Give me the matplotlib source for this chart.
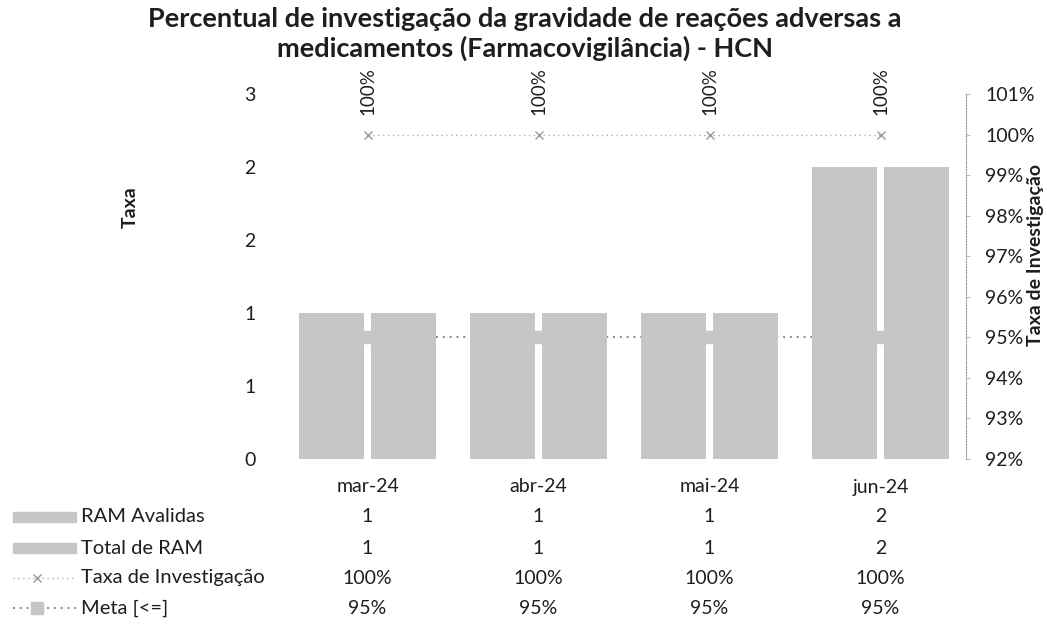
import numpy as np
import matplotlib
matplotlib.use("Agg")
import matplotlib.pyplot as plt
from matplotlib.patches import Rectangle
from matplotlib.lines import Line2D
from matplotlib.ticker import FuncFormatter, FixedLocator
import matplotlib.transforms as mtransforms

plt.rcParams['font.family'] = ['Lato', 'DejaVu Sans']

# Data
months = ["mar-24", "abr-24", "mai-24", "jun-24"]
ram_avaliadas = [1, 1, 1, 2]
total_ram = [1, 1, 1, 2]
taxa_investigacao = [1.00, 1.00, 1.00, 1.00]
meta = [0.95, 0.95, 0.95, 0.95]
series_names = ["RAM Avalidas", "Total de RAM", "Taxa de Investigação", "Meta [<=]"]

title = ("Percentual de investigação da gravidade de reações adversas a\n"
         "medicamentos (Farmacovigilância) - HCN")

FS = 14
W, H = 1047, 638
fig = plt.figure(figsize=(W / 100, H / 100), dpi=100)
fig.patch.set_facecolor("white")

left, right, bottom, top = 282, 966, 459, 94
ax = fig.add_axes([left / W, 1 - bottom / H, (right - left) / W, (bottom - top) / H])
ax2 = ax.twinx()

bar_color = "#c6c6c6"
text_color = "#1e1e1e"
x = np.arange(len(months))
bw = 0.38
off = 0.213

# secondary-axis lines sit behind the bars
ax.set_zorder(ax2.get_zorder() + 1)
ax.patch.set_visible(False)

ax.bar(x - off, ram_avaliadas, bw, color=bar_color, zorder=2)
ax.bar(x + off, total_ram, bw, color=bar_color, zorder=2)

ax.set_xlim(-0.5, len(months) - 0.5)
ax.set_ylim(0, 2.5)
ax.yaxis.set_major_locator(FixedLocator([0, 0.5, 1.0, 1.5, 2.0, 2.5]))
ax.yaxis.set_major_formatter(FuncFormatter(lambda v, p: f"{int(np.floor(v + 0.5))}"))
ax.tick_params(axis="y", length=0, pad=19, labelsize=FS, labelcolor=text_color)
ax.set_xticks([])
for s in ax.spines.values():
    s.set_visible(False)

ax2.plot(x, meta, linestyle=(0, (1, 2.5)), color="#8a8a8a", linewidth=1.4,
         marker="s", markersize=9, markerfacecolor=bar_color, markeredgecolor=bar_color)
ax2.plot(x, taxa_investigacao, linestyle=(0, (1, 2.5)), color="#b0b0b0", linewidth=1.0,
         marker="x", markersize=6, markeredgecolor="#9a9a9a", markeredgewidth=1.0)
ax2.set_ylim(0.92, 1.01)
ax2.yaxis.set_major_locator(FixedLocator(np.arange(0.92, 1.0101, 0.01)))
ax2.yaxis.set_major_formatter(FuncFormatter(lambda v, p: f"{v * 100:.0f}%"))
ax2.tick_params(axis="y", length=3, color="#bbbbbb", pad=11, labelsize=FS,
                labelcolor=text_color)
for name, s in ax2.spines.items():
    s.set_visible(name == "right")
ax2.spines["right"].set_linestyle((0, (1, 1.5)))
ax2.spines["right"].set_color("#9a9a9a")
ax2.spines["right"].set_linewidth(0.8)

for xi, v in zip(x, taxa_investigacao):
    ax2.annotate(f"{v * 100:.0f}%", (xi, v), xytext=(0, 14), textcoords="offset points",
                 rotation=90, ha="center", va="bottom", fontsize=13.5, color=text_color,
                 annotation_clip=False)

fig.text(130 / W, 1 - 207 / H, "Taxa", rotation=90, ha="center", va="center",
         fontsize=FS, fontweight="bold", color=text_color)
fig.text(1035 / W, 1 - 255 / H, "Taxa de Investigação", rotation=90, ha="center",
         va="center", fontsize=FS, fontweight="bold", color=text_color)

fig.text(525 / W, 1 - 34 / H, title, ha="center", va="center", fontsize=19.5,
         fontweight="bold", color=text_color, linespacing=1.2)

# Data table under the plot
blend = mtransforms.blended_transform_factory(ax.transData, fig.transFigure)
row_y = [517, 548, 578, 608]
for xi, m in zip(x, months):
    fig.text(xi, 1 - 487 / H, m, transform=blend, ha="center", va="center",
             fontsize=FS, color=text_color)
rows = [
    [f"{v:d}" for v in ram_avaliadas],
    [f"{v:d}" for v in total_ram],
    [f"{v * 100:.0f}%" for v in taxa_investigacao],
    [f"{v * 100:.0f}%" for v in meta],
]
for ry, name, vals in zip(row_y, series_names, rows):
    fig.text(81 / W, 1 - ry / H, name, ha="left", va="center", fontsize=14.5,
             color=text_color)
    for xi, t in zip(x, vals):
        fig.text(xi, 1 - ry / H, t, transform=blend, ha="center", va="center",
                 fontsize=FS, color=text_color)

# Legend keys beside the row names
kax = fig.add_axes([0, 0, 80 / W, 1], zorder=5)
kax.set_xlim(0, 80)
kax.set_ylim(H, 0)
kax.axis("off")
kax.add_patch(Rectangle((13, row_y[0] - 5), 63, 10, color=bar_color))
kax.add_patch(Rectangle((13, row_y[1] - 5), 63, 10, color=bar_color))
kax.add_line(Line2D([13, 76], [row_y[2]] * 2, linestyle=(0, (1, 2.5)), color="#b0b0b0",
                    linewidth=1.0))
kax.add_line(Line2D([37], [row_y[2]], marker="x", markersize=6, color="#9a9a9a",
                    linestyle="none"))
kax.add_line(Line2D([13, 76], [row_y[3]] * 2, linestyle=(0, (1, 2.5)), color="#8a8a8a",
                    linewidth=1.4))
kax.add_line(Line2D([37], [row_y[3]], marker="s", markersize=9, color=bar_color,
                    linestyle="none"))

fig.savefig("out.png", dpi=100, facecolor="white")
